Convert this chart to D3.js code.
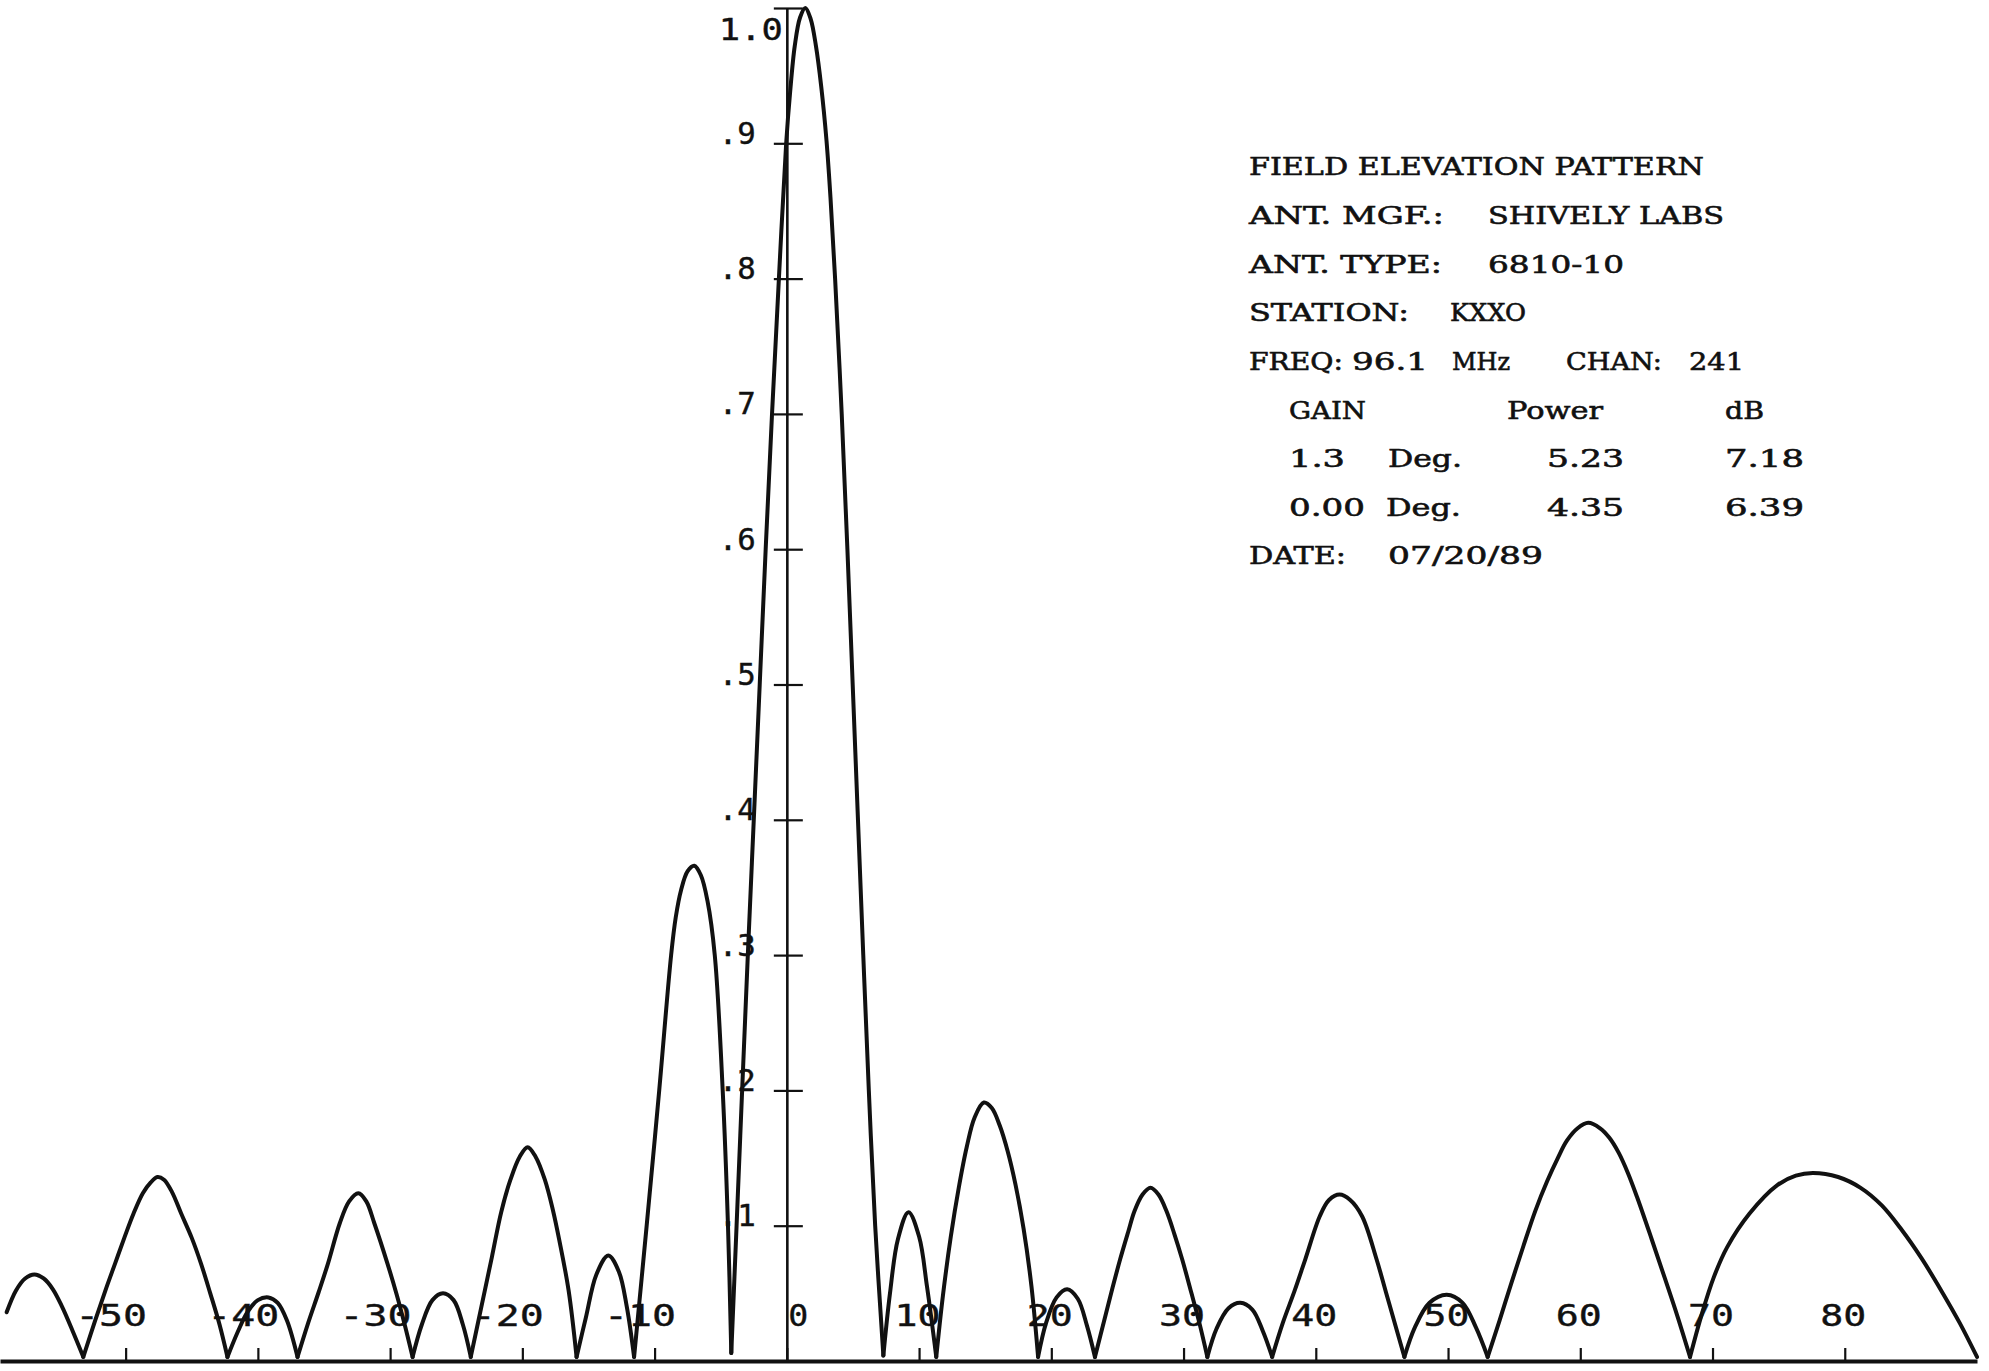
<!DOCTYPE html>
<html>
<head>
<meta charset="utf-8">
<script src="https://cdn.jsdelivr.net/npm/d3@7"></script>
<style>
  html, body { margin: 0; padding: 0; background: #fff; }
  svg { display: block; }
</style>
</head>
<body>
<svg id="chart" width="1989" height="1371"></svg>
<script>
// Field elevation pattern: elevation angle (degrees) vs relative field.
const elevationDeg = [
  -59.0, -58.3, -57.6, -56.9, -56.2, -55.5, -54.8, -54.0, -53.2,
  -52.3, -51.5, -50.8, -50.1, -49.4, -48.7, -48.1, -47.6, -47.1, -46.5, -45.8, -45.0, -44.3, -43.6, -42.9, -42.3,
  -41.5, -40.8, -40.0, -39.2, -38.5, -37.8, -37.0,
  -36.2, -35.4, -34.7, -33.8, -33.1, -32.4, -31.8, -31.2, -30.2, -29.5, -28.9, -28.3,
  -27.6, -26.8, -26.0, -25.2, -24.5, -23.9,
  -23.1, -22.3, -21.6, -20.9, -20.2, -19.6, -19.0, -18.3, -17.7, -17.2, -16.5, -15.9,
  -15.2, -14.4, -13.5, -12.7, -12.1, -11.55,
  -10.6, -9.65, -8.75, -8.4, -8.0, -7.5, -7.0, -6.5, -6.0, -5.45, -4.85, -4.45, -4.2,
  -3.8, -3.38, -2.95, -2.5, -2.05, -1.6, -1.12, -0.6, -0.05, 0.25, 0.6, 1.0, 1.4,
  1.8, 2.2, 2.6, 3.0, 3.3, 3.65, 4.15, 4.58, 4.98, 5.38, 5.78, 6.2, 6.68, 7.3,
  7.8, 8.4, 9.2, 10.0, 10.6, 11.3,
  11.8, 12.4, 13.0, 13.6, 14.2, 14.9, 15.5, 16.1, 16.7, 17.3, 17.9, 18.5, 19.0,
  19.6, 20.4, 21.2, 22.0, 22.7, 23.3,
  24.0, 24.6, 25.2, 25.8, 26.3, 26.9, 27.5, 28.1, 28.7, 29.3, 29.9, 30.6, 31.2, 31.8,
  32.5, 33.4, 34.3, 35.2, 36.0, 36.7,
  37.5, 38.4, 39.2, 40.3, 41.0, 41.8, 42.6, 43.5, 44.6, 45.3, 46.0, 46.7,
  47.5, 48.6, 49.9, 51.1, 52.1, 53.0,
  53.9, 54.8, 55.7, 56.6, 57.5, 58.3, 59.0, 59.8, 60.6, 61.5, 62.2, 62.9, 63.6, 64.3, 65.4, 66.4, 67.35, 68.3,
  69.2, 70.1, 71.1, 72.8, 74.9, 76.3, 77.6, 79.5, 81.2, 82.8, 84.3, 85.8, 87.3, 88.7, 90.0
];
const relativeField = [
  0.036, 0.052, 0.061, 0.064, 0.061, 0.053, 0.040, 0.022, 0.003,
  0.030, 0.053, 0.072, 0.091, 0.109, 0.124, 0.132, 0.136, 0.134, 0.125, 0.109, 0.091, 0.072, 0.050, 0.027, 0.003,
  0.022, 0.036, 0.045, 0.047, 0.043, 0.030, 0.003,
  0.028, 0.051, 0.072, 0.102, 0.118, 0.124, 0.118, 0.102, 0.072, 0.049, 0.027, 0.003,
  0.027, 0.045, 0.050, 0.045, 0.027, 0.003,
  0.040, 0.077, 0.110, 0.134, 0.151, 0.158, 0.151, 0.134, 0.112, 0.089, 0.052, 0.003,
  0.032, 0.064, 0.078, 0.066, 0.040, 0.003,
  0.100, 0.200, 0.300, 0.328, 0.348, 0.362, 0.366, 0.359, 0.340, 0.300, 0.200, 0.100, 0.006,
  0.100, 0.200, 0.300, 0.400, 0.500, 0.600, 0.700, 0.800, 0.900, 0.938, 0.972, 0.993, 1.000,
  0.992, 0.972, 0.942, 0.902, 0.860, 0.800, 0.700, 0.600, 0.500, 0.400, 0.300, 0.200, 0.100, 0.004,
  0.050, 0.090, 0.110, 0.092, 0.055, 0.003,
  0.048, 0.092, 0.128, 0.158, 0.180, 0.191, 0.187, 0.174, 0.155, 0.130, 0.098, 0.055, 0.003,
  0.028, 0.047, 0.053, 0.046, 0.026, 0.003,
  0.030, 0.053, 0.075, 0.095, 0.111, 0.123, 0.128, 0.123, 0.111, 0.094, 0.075, 0.050, 0.028, 0.003,
  0.024, 0.039, 0.043, 0.038, 0.022, 0.003,
  0.028, 0.052, 0.075, 0.107, 0.119, 0.123, 0.119, 0.107, 0.075, 0.051, 0.027, 0.003,
  0.025, 0.043, 0.049, 0.043, 0.025, 0.003,
  0.030, 0.058, 0.085, 0.111, 0.133, 0.150, 0.163, 0.172, 0.176, 0.172, 0.165, 0.154, 0.139, 0.121, 0.090, 0.061, 0.033, 0.003,
  0.035, 0.062, 0.084, 0.109, 0.130, 0.137, 0.139, 0.136, 0.128, 0.115, 0.097, 0.076, 0.052, 0.028, 0.003
];

// Axis ticks
const xTickValues = [-50, -40, -30, -20, -10, 0, 10, 20, 30, 40, 50, 60, 70, 80];
const yTickValues = [0.1, 0.2, 0.3, 0.4, 0.5, 0.6, 0.7, 0.8, 0.9, 1.0];
const yTickLabels = [".1", ".2", ".3", ".4", ".5", ".6", ".7", ".8", ".9", "1.0"];

// Caption block text, one array per printed line
const infoRows = [
  ["FIELD ELEVATION PATTERN"],
  ["ANT. MGF.:", "SHIVELY LABS"],
  ["ANT. TYPE:", "6810-10"],
  ["STATION:", "KXXO"],
  ["FREQ:", "96.1", "MHz", "CHAN:", "241"],
  ["GAIN", "Power", "dB"],
  ["1.3", "Deg.", "5.23", "7.18"],
  ["0.00", "Deg.", "4.35", "6.39"],
  ["DATE:", "07/20/89"]
];

// ---- layout ----
const W = 1989, H = 1371;
const svg = d3.select("#chart");
svg.append("rect").attr("width", W).attr("height", H).attr("fill", "#fff");

const x = d3.scaleLinear().domain([-59.5, 90]).range([0, 1977]);
const y = d3.scaleLinear().domain([0, 1]).range([1361, 8]);
const ink = "#111";
const plotFont = "'DejaVu Sans Mono', monospace";

// Horizontal axis along the baseline, ticks pointing up
const xAxis = svg.append("g")
  .attr("transform", `translate(0,${y(0)})`)
  .call(d3.axisTop(x).tickValues(xTickValues).tickSize(13).tickSizeOuter(0).tickFormat(d3.format("d")));
xAxis.select(".domain").attr("stroke", ink).attr("stroke-width", 4);
xAxis.selectAll(".tick line").attr("stroke", ink).attr("stroke-width", 2.2);
xAxis.selectAll(".tick text")
  .text(function () { return this.textContent.replace("\u2212", "-"); })
  .attr("fill", ink)
  .attr("stroke", ink)
  .attr("stroke-width", 0.4)
  .attr("font-family", plotFont)
  .attr("font-size", 31)
  .attr("text-anchor", "end")
  .attr("x", 21)
  .attr("y", -35)
  .attr("dy", 0)
  .attr("lengthAdjust", "spacingAndGlyphs")
  .attr("textLength", function () { return this.textContent.length * 26 - 6; });

// Vertical axis at 0 degrees with ticks crossing it
const yAxis = svg.append("g")
  .attr("transform", `translate(${x(0)},0)`)
  .call(d3.axisLeft(y).tickValues(yTickValues).tickSizeOuter(0)
    .tickFormat((d, i) => yTickLabels[i]));
yAxis.select(".domain").attr("stroke", ink).attr("stroke-width", 2.6);
yAxis.selectAll(".tick line")
  .attr("x1", -13).attr("x2", 16)
  .attr("stroke", ink).attr("stroke-width", 2.2);
yAxis.selectAll(".tick text")
  .attr("fill", ink)
  .attr("stroke", ink)
  .attr("stroke-width", 0.4)
  .attr("font-family", plotFont)
  .attr("font-size", 30)
  .attr("text-anchor", "start")
  .attr("x", -68)
  .attr("dy", 0)
  .attr("y", d => Math.max(0, 39 - y(d)))
  .attr("lengthAdjust", "spacingAndGlyphs")
  .attr("textLength", function () { return this.textContent.length === 3 ? 64 : 37; });

// Pattern curve: one smooth arch per lobe, lobes meet at the nulls
const pts = elevationDeg.map((d, i) => [d, relativeField[i]]);
const breaks = [0];
for (let i = 1; i < pts.length - 1; i++) {
  if (pts[i][1] < pts[i - 1][1] && pts[i][1] < pts[i + 1][1]) breaks.push(i);
}
breaks.push(pts.length - 1);
const lobes = d3.pairs(breaks).map(([a, b]) => pts.slice(a, b + 1));

const line = d3.line()
  .x(d => x(d[0]))
  .y(d => y(d[1]))
  .curve(d3.curveCatmullRom.alpha(0.5));

svg.append("g")
  .selectAll("path")
  .data(lobes)
  .join("path")
  .attr("d", line)
  .attr("fill", "none")
  .attr("stroke", ink)
  .attr("stroke-width", 4)
  .attr("stroke-linejoin", "round")
  .attr("stroke-linecap", "round");

// Caption block (typewritten)
const infoLayout = {
  baselines: [175, 224, 273, 321, 370, 419, 467, 516, 564],
  cols: [
    [[1249, 455]],
    [[1249, 195], [1488, 236]],
    [[1249, 193], [1488, 136]],
    [[1249, 160], [1450, 76]],
    [[1249, 94], [1352, 76], [1452, 58], [1566, 96], [1689, 55]],
    [[1289, 77], [1507, 96], [1725, 39]],
    [[1289, 56], [1388, 74], [1547, 77], [1725, 79]],
    [[1289, 76], [1386, 75], [1547, 77], [1725, 79]],
    [[1249, 97], [1388, 155]]
  ]
};
const info = svg.append("g")
  .attr("font-family", "'DejaVu Serif', serif")
  .attr("font-size", 24)
  .attr("fill", ink)
  .attr("stroke", ink)
  .attr("stroke-width", 0.6);
infoRows.forEach((row, r) => {
  row.forEach((txt, c) => {
    const [cx, cw] = infoLayout.cols[r][c];
    info.append("text")
      .attr("x", cx)
      .attr("y", infoLayout.baselines[r])
      .attr("textLength", cw)
      .attr("lengthAdjust", "spacingAndGlyphs")
      .text(txt);
  });
});
</script>
</body>
</html>
